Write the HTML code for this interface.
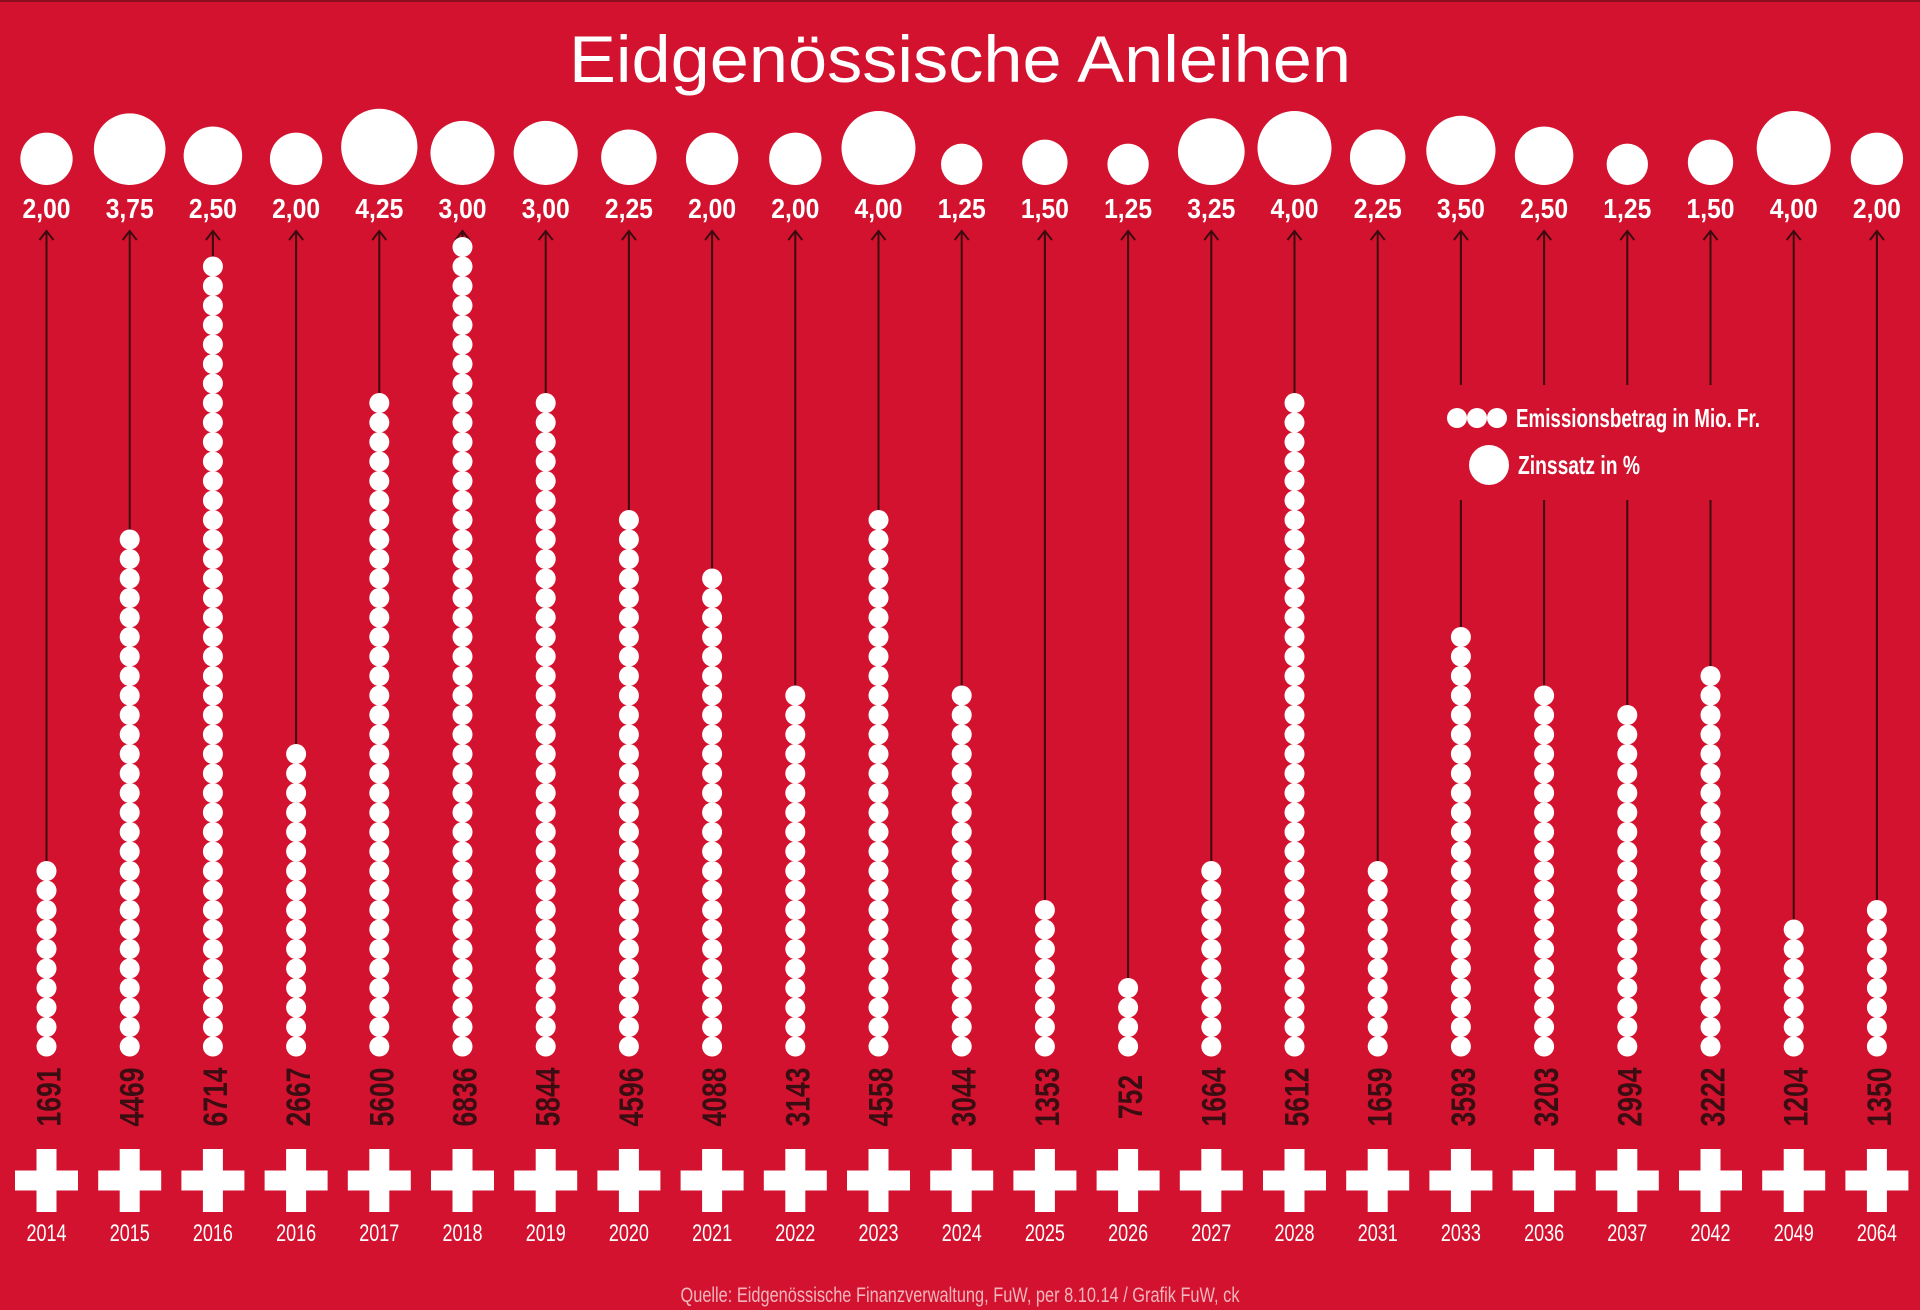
<!DOCTYPE html>
<html><head><meta charset="utf-8"><style>
html,body{margin:0;padding:0;background:#d2122e;}
svg{display:block;}
.n{font-family:"Liberation Sans Narrow","Liberation Sans",sans-serif;}
</style></head><body>
<svg id="s" width="1920" height="1310" viewBox="0 0 1920 1310" xmlns="http://www.w3.org/2000/svg">
<rect width="1920" height="1310" fill="#d2122e"/>
<rect x="0" y="0" width="1920" height="2" fill="#8a1020"/>
<text x="960" y="82" text-anchor="middle" font-family="Liberation Sans, sans-serif" font-size="66" fill="#fff" textLength="782" lengthAdjust="spacingAndGlyphs">Eidgenössische Anleihen</text>
<g id="cols"></g>
<rect x="1430" y="385" width="345" height="115" fill="#d2122e"/>
<circle cx="1457" cy="418" r="10" fill="#fff"/><circle cx="1477" cy="418" r="10" fill="#fff"/><circle cx="1497" cy="418" r="10" fill="#fff"/>
<text class="n" x="1516" y="427" font-size="26" font-weight="bold" fill="#fff" textLength="244" lengthAdjust="spacingAndGlyphs">Emissionsbetrag in Mio. Fr.</text>
<circle cx="1489" cy="465" r="20" fill="#fff"/>
<text class="n" x="1518" y="474" font-size="26" font-weight="bold" fill="#fff" textLength="122" lengthAdjust="spacingAndGlyphs">Zinssatz in %</text>
<text class="n" x="960" y="1302" text-anchor="middle" font-size="21" fill="#f2b5bd" textLength="559" lengthAdjust="spacingAndGlyphs">Quelle: Eidgenössische Finanzverwaltung, FuW, per 8.10.14 / Grafik FuW, ck</text>
</svg>
<script>
var rates=["2,00","3,75","2,50","2,00","4,25","3,00","3,00","2,25","2,00","2,00","4,00","1,25","1,50","1,25","3,25","4,00","2,25","3,50","2,50","1,25","1,50","4,00","2,00"];
var dots=[10,27,41,16,34,42,34,28,25,19,28,19,8,4,10,34,10,22,19,18,20,7,8];
var vals=["1691","4469","6714","2667","5600","6836","5844","4596","4088","3143","4558","3044","1353","752","1664","5612","1659","3593","3203","2994","3222","1204","1350"];
var years=["2014","2015","2016","2016","2017","2018","2019","2020","2021","2022","2023","2024","2025","2026","2027","2028","2031","2033","2036","2037","2042","2049","2064"];
var h="";
for(var i=0;i<23;i++){
 var x=46.5+i*83.2;
 var r=parseFloat(rates[i].replace(",","."));
 var d=37*Math.sqrt(r)/2;
 h+='<circle cx="'+x+'" cy="'+(185-d)+'" r="'+d+'" fill="#fff"/>';
 h+='<text class="n" x="'+x+'" y="218" text-anchor="middle" font-size="28" font-weight="bold" fill="#fff" textLength="48" lengthAdjust="spacingAndGlyphs">'+rates[i]+'</text>';
 var topc=1046.5-(dots[i]-1)*19.5;
 h+='<line x1="'+x+'" y1="231" x2="'+x+'" y2="'+(topc-9)+'" stroke="#3b0b10" stroke-width="2"/>';
 h+='<polyline points="'+(x-7)+',240 '+x+',231 '+(x+7)+',240" fill="none" stroke="#3b0b10" stroke-width="2"/>';
 for(var k=0;k<dots[i];k++){h+='<circle cx="'+x+'" cy="'+(1046.5-k*19.5)+'" r="10" fill="#fff"/>';}
 var L=vals[i].length*14.75;
 h+='<text class="n" transform="translate('+(x+3)+',1097) rotate(-90)" text-anchor="middle" dominant-baseline="central" font-size="34" font-weight="bold" fill="#3a0d12" textLength="'+L+'" lengthAdjust="spacingAndGlyphs">'+vals[i]+'</text>';
 h+='<rect x="'+(x-31.5)+'" y="1170.5" width="63" height="20" fill="#fff"/>';
 h+='<rect x="'+(x-10)+'" y="1149" width="20" height="63" fill="#fff"/>';
 h+='<text class="n" x="'+x+'" y="1241" text-anchor="middle" font-size="24" fill="#fff" textLength="40" lengthAdjust="spacingAndGlyphs">'+years[i]+'</text>';
}
document.getElementById("cols").innerHTML=h;
</script>
</body></html>
